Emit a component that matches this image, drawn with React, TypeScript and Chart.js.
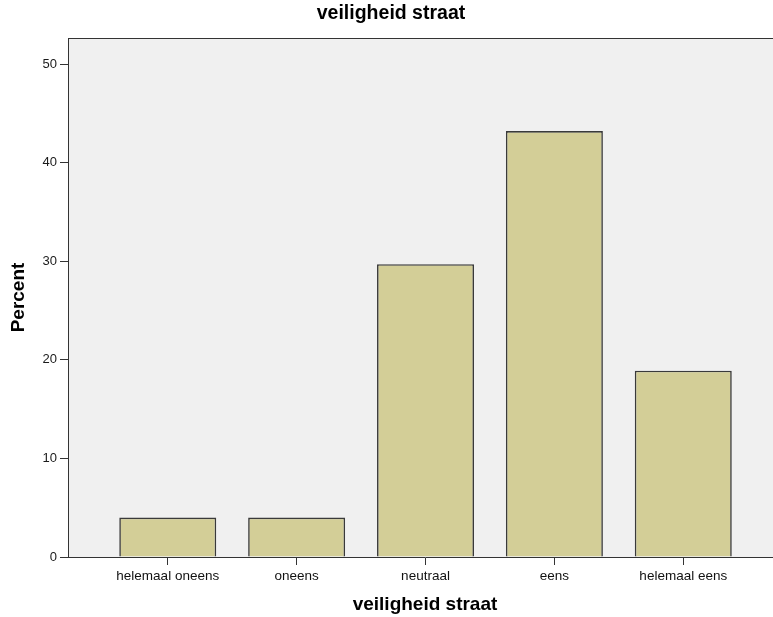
import React, { useEffect, useRef } from 'react';
import { Chart, registerables } from 'chart.js';

Chart.register(...registerables);

const chartTitle = 'veiligheid straat';
const xAxisTitle = 'veiligheid straat';
const yAxisTitle = 'Percent';
const categories = ['helemaal oneens', 'oneens', 'neutraal', 'eens', 'helemaal eens'];
const percents = [4.0, 4.0, 29.7, 43.2, 18.9];
const yTickValues = [0, 10, 20, 30, 40, 50];

const FONT = 'Arial, "Liberation Sans", sans-serif';
const AXIS_COLOR = '#333333';

const plotBackground = {
  id: 'plotBackground',
  beforeDraw(chart: any) {
    const { ctx, chartArea } = chart;
    if (!chartArea) return;
    ctx.save();
    ctx.fillStyle = '#f0f0f0';
    ctx.fillRect(chartArea.left, chartArea.top, chartArea.right - chartArea.left, chartArea.bottom - chartArea.top);
    ctx.strokeStyle = AXIS_COLOR;
    ctx.lineWidth = 1;
    ctx.beginPath();
    ctx.moveTo(chartArea.left, Math.round(chartArea.top) + 0.5);
    ctx.lineTo(chartArea.right, Math.round(chartArea.top) + 0.5);
    ctx.moveTo(Math.round(chartArea.right) - 0.5, chartArea.top);
    ctx.lineTo(Math.round(chartArea.right) - 0.5, chartArea.bottom);
    ctx.stroke();
    ctx.restore();
  },
};

export default function App() {
  const canvasRef = useRef<HTMLCanvasElement | null>(null);

  useEffect(() => {
    if (!canvasRef.current) return;
    const chart = new Chart(canvasRef.current, {
      type: 'bar',
      data: {
        datasets: [
          {
            label: yAxisTitle,
            data: percents.map((v, i) => ({ x: i, y: v })),
            backgroundColor: '#d3ce97',
            borderColor: '#3a3a3a',
            borderWidth: 1.6,
            categoryPercentage: 1,
            barPercentage: 0.7525,
          },
        ],
      },
      options: {
        responsive: false,
        animation: false,
        devicePixelRatio: 1,
        layout: { padding: { left: 0, right: 4, top: 0, bottom: 0 } },
        plugins: {
          legend: { display: false },
          tooltip: { enabled: false },
          title: {
            display: true,
            text: chartTitle,
            color: '#000',
            font: { family: FONT, size: 19.5, weight: 'bold' },
            padding: { top: 2, bottom: 12.6 },
          },
        },
        scales: {
          x: {
            type: 'linear',
            offset: false,
            min: -0.774,
            max: 4.766,
            afterBuildTicks: (s: any) => {
              s.ticks = categories.map((_, i) => ({ value: i }));
            },
            afterFit: (s: any) => {
              s.height = 60;
            },
            grid: { offset: false, drawOnChartArea: false, drawTicks: true, tickLength: 8, color: AXIS_COLOR, lineWidth: 1 },
            border: { display: true, color: AXIS_COLOR, width: 1 },
            ticks: {
              autoSkip: false,
              maxRotation: 0,
              padding: 3,
              color: '#111',
              font: { family: FONT, size: 13.5 },
              callback: (v: any) => categories[v as number] ?? '',
            },
            title: {
              display: true,
              text: xAxisTitle,
              color: '#000',
              font: { family: FONT, size: 19, weight: 'bold' },
              padding: { top: 0, bottom: 1 },
            },
          },
          y: {
            min: 0,
            max: 52.64,
            afterBuildTicks: (s: any) => {
              s.ticks = yTickValues.map((v) => ({ value: v }));
            },
            afterFit: (s: any) => {
              s.width = 68;
            },
            grid: { drawOnChartArea: false, drawTicks: true, tickLength: 8, color: AXIS_COLOR, lineWidth: 1 },
            border: { display: true, color: AXIS_COLOR, width: 1 },
            ticks: {
              padding: 3,
              color: '#1a1a1a',
              font: { family: FONT, size: 13 },
            },
            title: {
              display: true,
              text: yAxisTitle,
              color: '#000',
              font: { family: FONT, size: 19, weight: 'bold' },
              padding: { top: 7, bottom: 0 },
            },
          },
        },
      },
      plugins: [plotBackground],
    } as any);
    return () => chart.destroy();
  }, []);

  return (
    <div
      style={{
        position: 'absolute',
        left: 0,
        top: 0,
        width: 773,
        height: 617,
        overflow: 'hidden',
        background: '#fff',
      }}
    >
      <canvas ref={canvasRef} width={786} height={617} style={{ display: 'block' }} />
    </div>
  );
}
